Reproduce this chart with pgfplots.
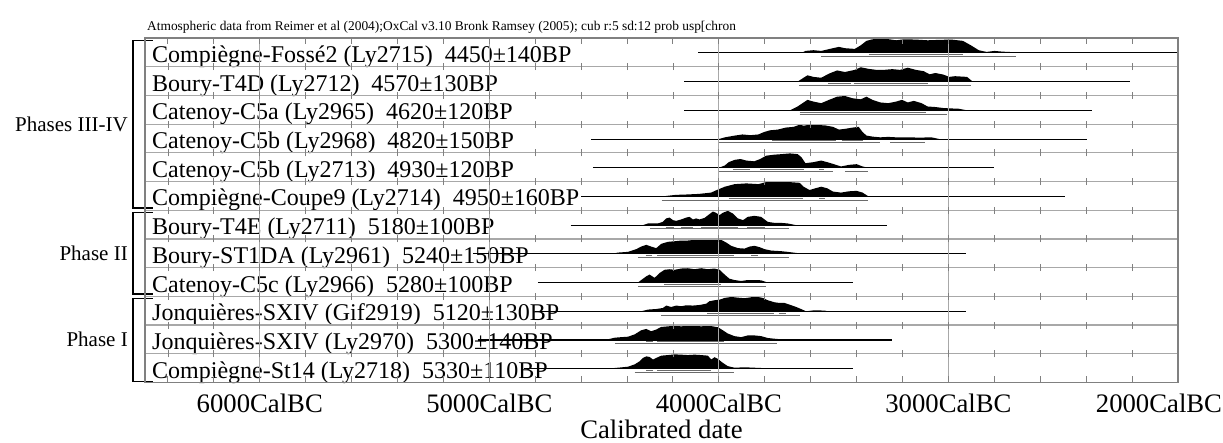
\documentclass[border=0pt]{standalone}
\usepackage{fontspec}
\setmainfont{Liberation Serif}
\usepackage{pgfplots}
\pgfplotsset{compat=1.18}
\definecolor{gridc}{gray}{0.66}
\definecolor{framec}{gray}{0.5}
\definecolor{tickc}{gray}{0.5}
\definecolor{rangec}{gray}{0.42}

\begin{document}
\begin{tikzpicture}[
  lab/.style={anchor=base west, inner sep=0pt, xshift=7pt, font=\fontsize{24}{28}\selectfont},
  phase/.style={anchor=east, inner sep=0pt, xshift=-17pt, font=\fontsize{21}{25}\selectfont},
  dist/.style={fill=black, draw=none},
  base/.style={black, line width=1.1pt},
  rng/.style={rangec, line width=0.9pt},
  brk/.style={black, line width=1.4pt},
]
\path[use as bounding box] (0,0) rectangle (1223pt,442pt);
\begin{axis}[
  at={(145pt,59.5pt)}, anchor=south west,
  width=1033pt, height=344.5pt, scale only axis,
  x dir=reverse, xmin=2000, xmax=6500, ymin=0, ymax=12,
  clip=false, axis on top, no markers, unbounded coords=jump,
  axis line style={framec, line width=1.3pt},
  xtick={6000,5000,4000,3000},
  xticklabels={6000CalBC,5000CalBC,4000CalBC,3000CalBC},
  extra x ticks={2000}, extra x tick labels={2000CalBC},
  extra x tick style={grid=none, xticklabel style={xshift=-19pt}},
  minor xtick={2200,2400,...,6400},
  major tick length=0pt, minor tick length=6.5pt, tick align=inside,
  minor tick style={tickc, line width=1pt},
  xmajorgrids, ymajorgrids,
  major grid style={gridc, line width=1.2pt},
  ytick={1,...,11}, yticklabels={},
  xticklabel style={font=\fontsize{26.7}{30}\selectfont, anchor=base, yshift=-30pt},
  xlabel={Calibrated date},
  xlabel style={font=\fontsize{26.7}{30}\selectfont, at={(axis description cs:0.5,0)}, anchor=base, yshift=-55.5pt},
]

% title
\node[anchor=base west, inner sep=0pt, font=\fontsize{13.4}{15}\selectfont]
  at ([xshift=2pt,yshift=7pt]axis description cs:0,1)
  {Atmospheric data from Reimer et al (2004);OxCal v3.10 Bronk Ramsey (2005); cub r:5 sd:12 prob usp[chron};

% sample labels
\node[lab] at (axis cs:6500,11.15) {Compiègne-Fossé2 (Ly2715)\ \ 4450±140BP};
\node[lab] at (axis cs:6500,10.15) {Boury-T4D (Ly2712)\ \ 4570±130BP};
\node[lab] at (axis cs:6500,9.15) {Catenoy-C5a (Ly2965)\ \ 4620±120BP};
\node[lab] at (axis cs:6500,8.15) {Catenoy-C5b (Ly2968)\ \ 4820±150BP};
\node[lab] at (axis cs:6500,7.15) {Catenoy-C5b (Ly2713)\ \ 4930±120BP};
\node[lab] at (axis cs:6500,6.15) {Compiègne-Coupe9 (Ly2714)\ \ 4950±160BP};
\node[lab] at (axis cs:6500,5.15) {Boury-T4E (Ly2711)\ \ 5180±100BP};
\node[lab] at (axis cs:6500,4.15) {Boury-ST1DA (Ly2961)\ \ 5240±150BP};
\node[lab] at (axis cs:6500,3.15) {Catenoy-C5c (Ly2966)\ \ 5280±100BP};
\node[lab] at (axis cs:6500,2.15) {Jonquières-SXIV (Gif2919)\ \ 5120±130BP};
\node[lab] at (axis cs:6500,1.15) {Jonquières-SXIV (Ly2970)\ \ 5300±140BP};
\node[lab] at (axis cs:6500,0.15) {Compiègne-St14 (Ly2718)\ \ 5330±110BP};

% phase brackets
\draw[brk] ([xshift=8pt]axis cs:6500,11.92) -- ([xshift=-12pt]axis cs:6500,11.92)
  -- ([xshift=-12pt]axis cs:6500,6.08) -- ([xshift=8pt]axis cs:6500,6.08);
\draw[brk] ([xshift=8pt]axis cs:6500,5.92) -- ([xshift=-12pt]axis cs:6500,5.92)
  -- ([xshift=-12pt]axis cs:6500,3.08) -- ([xshift=8pt]axis cs:6500,3.08);
\draw[brk] ([xshift=8pt]axis cs:6500,2.92) -- ([xshift=-12pt]axis cs:6500,2.92)
  -- ([xshift=-12pt]axis cs:6500,0.03) -- ([xshift=8pt]axis cs:6500,0.03);
\node[phase] at (axis cs:6500,9) {Phases III-IV};
\node[phase] at (axis cs:6500,4.5) {Phase II};
\node[phase] at (axis cs:6500,1.5) {Phase I};

% ---- row 1: Compiegne-Fosse2 (Ly2715)
\addplot[base] coordinates {(4089,11.48) (2000,11.48)};
\addplot[dist] table[y expr=\thisrow{p}*0.5+11.48] {
t p
3640 0
3623 0.14
3588 0.19
3554 0.14
3503 0.33
3477 0.42
3451 0.33
3408 0.28
3382 0.53
3357 0.84
3331 0.95
3280 1.0
3228 0.88
3194 0.95
3142 0.93
3091 0.88
3039 0.91
2988 0.93
2937 0.84
2902 0.53
2868 0.19
2834 0.07
2799 0.14
2765 0.09
2714 0.05
2628 0
};
\addplot[rng] coordinates {(3348,11.415) (2937,11.415)};
\addplot[rng] coordinates {(3554,11.35) (2705,11.35)};

% ---- row 2: Boury-T4D (Ly2712)
\addplot[base] coordinates {(4151,10.48) (2211,10.48)};
\addplot[dist] table[y expr=\thisrow{p}*0.5+10.48] {
t p
3657 0
3636 0.22
3614 0.44
3588 0.33
3554 0.27
3520 0.56
3485 0.78
3451 0.67
3408 0.82
3382 1.0
3348 0.89
3314 0.82
3280 0.82
3245 0.87
3211 0.82
3177 0.97
3142 0.82
3108 0.73
3082 0.51
3057 0.60
3022 0.49
2997 0.33
2971 0.38
2919 0.33
2894 0
};
\addplot[rng] coordinates {(3523,10.415) (3425,10.415) (3420,nan) (3413,10.415) (3091,10.415)};
\addplot[rng] coordinates {(3652,10.35) (2902,10.35)};

% ---- row 3: Catenoy-C5a (Ly2965)
\addplot[base] coordinates {(4151,9.48) (2374,9.48)};
\addplot[dist] table[y expr=\thisrow{p}*0.5+9.48] {
t p
3691 0
3657 0.27
3631 0.55
3614 0.73
3588 0.61
3554 0.50
3520 0.73
3485 0.95
3451 1.0
3417 0.84
3382 0.77
3357 0.95
3331 0.73
3297 0.55
3262 0.50
3228 0.61
3202 0.73
3177 0.55
3151 0.66
3117 0.50
3091 0.27
3057 0.23
3022 0.16
2997 0.14
2954 0.11
2919 0
};
\addplot[rng] coordinates {(3648,9.415) (3099,9.415)};
\addplot[rng] coordinates {(3648,9.35) (3005,9.35)};

% ---- row 4: Catenoy-C5b (Ly2968)
\addplot[base] coordinates {(4557,8.48) (2396,8.48)};
\addplot[dist] table[y expr=\thisrow{p}*0.5+8.48] {
t p
4000 0
3974 0.12
3931 0.24
3897 0.32
3863 0.27
3828 0.32
3803 0.49
3777 0.61
3743 0.66
3708 0.80
3674 0.85
3648 1.0
3631 0.93
3605 1.0
3571 0.98
3537 0.95
3503 0.85
3477 0.66
3451 0.71
3417 0.80
3391 0.85
3374 0.49
3357 0.24
3331 0.17
3297 0.12
3262 0.15
3228 0.12
3177 0.12
3125 0.10
3074 0.12
3039 0
};
\addplot[rng] coordinates {(3768,8.415) (3491,8.415) (3480,nan) (3465,8.415) (3370,8.415)};
\addplot[rng] coordinates {(4000,8.35) (3300,8.35) (3280,nan) (3254,8.35) (3103,8.35)};

% ---- row 5: Catenoy-C5b (Ly2713)
\addplot[base] coordinates {(4549,7.48) (2800,7.48)};
\addplot[dist] table[y expr=\thisrow{p}*0.5+7.48] {
t p
4000 0
3974 0.16
3957 0.39
3931 0.55
3906 0.61
3880 0.50
3846 0.45
3820 0.61
3794 0.84
3760 0.91
3726 0.95
3691 1.0
3657 0.95
3640 0.73
3623 0.32
3588 0.39
3554 0.50
3528 0.39
3503 0.27
3468 0.09
3434 0.20
3400 0.25
3374 0.09
3348 0
};
\addplot[rng] coordinates {(3940,7.415) (3866,7.415) (3840,nan) (3820,7.415) (3631,7.415) (3600,nan) (3563,7.415) (3540,7.415)};
\addplot[rng] coordinates {(4000,7.35) (3503,7.35) (3480,nan) (3451,7.35) (3351,7.35)};

% ---- row 6: Compiegne-Coupe9 (Ly2714)
\addplot[base] coordinates {(4600,6.48) (2491,6.48)};
\addplot[dist] table[y expr=\thisrow{p}*0.5+6.48] {
t p
4249 0
4189 0.11
4137 0.14
4086 0.18
4034 0.27
4009 0.45
3974 0.68
3931 0.86
3880 0.91
3828 0.86
3794 1.0
3743 1.0
3691 1.0
3648 0.95
3631 0.68
3605 0.45
3580 0.57
3554 0.68
3528 0.57
3503 0.34
3468 0.27
3434 0.36
3400 0.39
3374 0.27
3348 0
};
\addplot[rng] coordinates {(3957,6.415) (3634,6.415) (3600,nan) (3563,6.415) (3537,6.415)};
\addplot[rng] coordinates {(4249,6.35) (3351,6.35)};

% ---- row 7: Boury-T4E (Ly2711)
\addplot[base] coordinates {(4646,5.48) (3268,5.48)};
\addplot[dist] table[y expr=\thisrow{p}*0.5+5.48] {
t p
4331 0
4309 0.12
4266 0.12
4244 0.23
4229 0.47
4215 0.53
4200 0.35
4186 0.30
4164 0.40
4142 0.53
4128 0.58
4113 0.40
4099 0.47
4084 0.40
4062 0.51
4041 0.77
4026 0.95
4012 0.86
3997 0.70
3983 0.86
3961 1.0
3939 0.81
3917 0.47
3895 0.35
3874 0.58
3845 0.65
3816 0.58
3787 0.23
3758 0.16
3729 0.16
3700 0.12
3663 0
};
\addplot[rng] coordinates {(4232,5.415) (4197,5.415) (4180,nan) (4167,5.415) (4113,5.415) (4100,nan) (4077,5.415) (3917,5.415) (3900,nan) (3878,5.415) (3798,5.415)};
\addplot[rng] coordinates {(4300,5.35) (3695,5.35)};

% ---- row 8: Boury-ST1DA (Ly2961)
\addplot[base] coordinates {(5070,4.48) (2923,4.48)};
\addplot[dist] table[y expr=\thisrow{p}*0.5+4.48] {
t p
4469 0
4440 0.09
4396 0.14
4360 0.33
4338 0.51
4316 0.63
4295 0.51
4273 0.40
4251 0.70
4222 0.84
4193 0.88
4164 0.93
4135 0.93
4106 0.98
4077 0.98
4048 0.98
4019 1.0
3990 0.98
3968 0.79
3946 0.56
3917 0.40
3888 0.37
3866 0.51
3845 0.56
3823 0.47
3801 0.33
3772 0.23
3729 0.19
3700 0.14
3656 0.05
3634 0
};
\addplot[rng] coordinates {(4319,4.415) (4290,4.415) (4280,nan) (4269,4.415) (3936,4.415) (3900,nan) (3858,4.415) (3830,4.415)};
\addplot[rng] coordinates {(4353,4.35) (3695,4.35)};

% ---- row 9: Catenoy-C5c (Ly2966)
\addplot[base] coordinates {(4788,3.48) (3416,3.48)};
\addplot[dist] table[y expr=\thisrow{p}*0.5+3.48] {
t p
4353 0
4338 0.18
4316 0.44
4302 0.56
4280 0.33
4258 0.67
4237 0.89
4215 0.93
4193 0.89
4164 0.98
4135 1.0
4106 0.93
4077 1.0
4048 0.93
4019 0.98
3997 0.89
3975 0.56
3954 0.27
3932 0.18
3903 0.11
3874 0.18
3845 0.18
3816 0.16
3794 0.04
3779 0
};
\addplot[rng] coordinates {(4237,3.415) (3990,3.415)};
\addplot[rng] coordinates {(4353,3.35) (3794,3.35)};

% ---- row 10: Jonquieres-SXIV (Gif2919)
\addplot[base] coordinates {(4800,2.48) (2923,2.48)};
\addplot[dist] table[y expr=\thisrow{p}*0.5+2.48] {
t p
4338 0
4309 0.12
4273 0.16
4244 0.23
4229 0.40
4208 0.30
4186 0.40
4164 0.35
4142 0.42
4113 0.40
4084 0.44
4055 0.53
4041 0.70
4019 0.77
3997 0.81
3975 0.93
3946 1.0
3917 0.95
3888 0.91
3859 0.98
3830 1.0
3808 0.93
3787 0.77
3758 0.63
3736 0.58
3714 0.58
3693 0.47
3663 0.30
3642 0.16
3620 0
3584 0.07
3540 0.05
3525 0
};
\addplot[rng] coordinates {(4051,2.415) (3758,2.415) (3750,nan) (3739,2.415) (3707,2.415)};
\addplot[rng] coordinates {(4251,2.35) (3646,2.35)};

% ---- row 11: Jonquieres-SXIV (Ly2970)
\addplot[base] coordinates {(5050,1.48) (3247,1.48)};
\addplot[dist] table[y expr=\thisrow{p}*0.5+1.48] {
t p
4534 0
4483 0.05
4454 0.16
4425 0.20
4396 0.23
4367 0.39
4338 0.68
4316 0.77
4295 0.61
4273 0.73
4251 0.91
4222 0.95
4193 1.0
4164 0.95
4135 1.0
4106 1.0
4077 0.95
4048 1.0
4026 0.95
4004 0.89
3983 0.68
3961 0.45
3932 0.27
3903 0.20
3874 0.32
3845 0.32
3816 0.27
3787 0.14
3758 0.09
3729 0.05
3700 0
};
\addplot[rng] coordinates {(4316,1.415) (4287,1.415) (4280,nan) (4269,1.415) (3979,1.415)};
\addplot[rng] coordinates {(4451,1.35) (3746,1.35)};

% ---- row 12: Compiegne-St14 (Ly2718)
\addplot[base] coordinates {(4850,0.48) (3416,0.48)};
\addplot[dist] table[y expr=\thisrow{p}*0.5+0.48] {
t p
4491 0
4440 0.07
4396 0.14
4367 0.30
4345 0.52
4331 0.75
4316 0.86
4302 0.82
4287 0.64
4273 0.75
4251 0.91
4222 0.95
4193 1.0
4164 0.98
4135 0.95
4106 0.98
4077 0.95
4048 0.91
4033 0.64
4019 0.80
4004 0.68
3983 0.41
3961 0.18
3932 0.07
3903 0.09
3874 0.09
3845 0.07
3816 0.05
3787 0
};
\addplot[rng] coordinates {(4316,0.415) (4287,0.415) (4280,nan) (4269,0.415) (4033,0.415)};
\addplot[rng] coordinates {(4367,0.35) (3935,0.35)};

\end{axis}

% small tick crosses on the row separators (every 200 years)
\foreach \k in {1,...,11}{
  \foreach \yr in {2200,2400,...,6400}{
    \draw[tickc, line width=0.9pt]
      ({(145+(6500-\yr)*0.229556)*1pt},{(59.5+\k*28.7083-3.5)*1pt}) -- ++(0,7pt);
  }
}
\end{tikzpicture}
\end{document}
